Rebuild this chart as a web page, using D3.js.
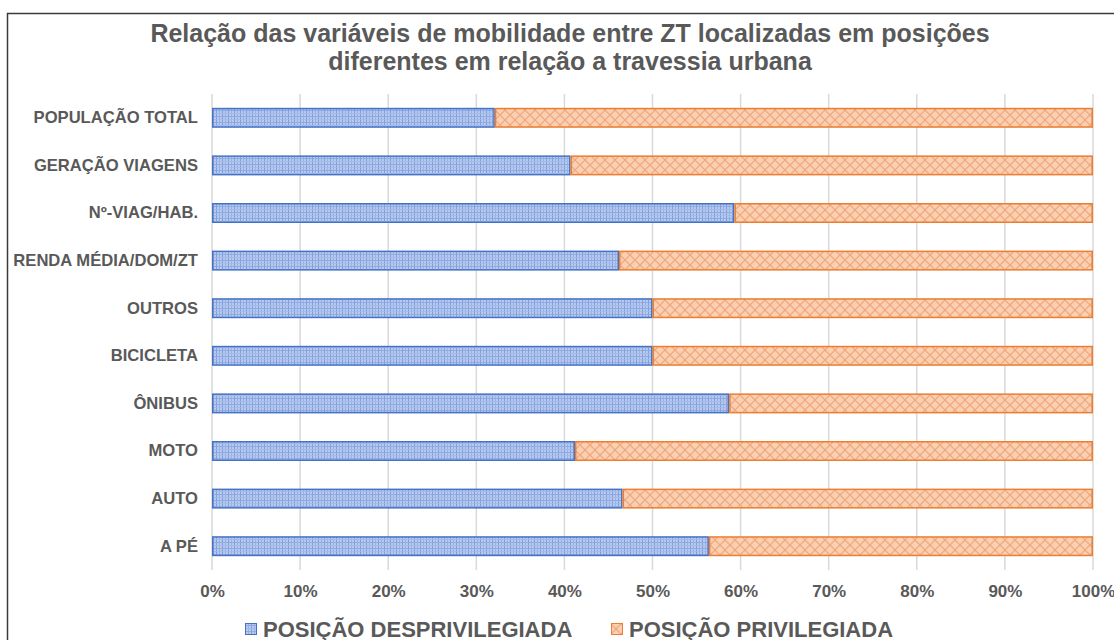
<!DOCTYPE html>
<html>
<head>
<meta charset="utf-8">
<script src="https://cdn.jsdelivr.net/npm/d3@7"></script>
<style>
  html, body { margin: 0; padding: 0; background: #fff; }
  svg { display: block; font-family: "Liberation Sans", Arial, sans-serif; }
</style>
</head>
<body>
<svg id="chart" width="1114" height="640"></svg>
<script>
// Categories, top to bottom
const categories = [
  "POPULAÇÃO TOTAL", "GERAÇÃO VIAGENS", "Nº-VIAG/HAB.", "RENDA MÉDIA/DOM/ZT",
  "OUTROS", "BICICLETA", "ÔNIBUS", "MOTO", "AUTO", "A PÉ"
];
// Share of each variable in underprivileged zones (%); the rest is privileged
const desprivilegiada = [32.1, 40.7, 59.3, 46.2, 50.0, 50.0, 58.7, 41.2, 46.6, 56.4];
const privilegiada = desprivilegiada.map(v => 100 - v);
const seriesNames = ["POSIÇÃO DESPRIVILEGIADA", "POSIÇÃO PRIVILEGIADA"];
const tickValues = [0, 10, 20, 30, 40, 50, 60, 70, 80, 90, 100];
const titleLines = [
  "Relação das variáveis de mobilidade entre ZT localizadas em posições",
  "diferentes em relação a travessia urbana"
];

const svg = d3.select("#chart");
const textColor = "#595959";

// Hatch patterns
const defs = svg.append("defs");
const pb = defs.append("pattern").attr("id", "patBlue")
  .attr("patternUnits", "userSpaceOnUse").attr("width", 6).attr("height", 6);
pb.append("rect").attr("width", 6).attr("height", 6).attr("fill", "#b7c9ee");
pb.append("rect").attr("x", 0).attr("y", 0).attr("width", 1).attr("height", 6).attr("fill", "#7d9ddc");
pb.append("rect").attr("x", 3).attr("y", 0).attr("width", 1).attr("height", 6).attr("fill", "#99b2e4");
pb.append("rect").attr("x", 0).attr("y", 2).attr("width", 6).attr("height", 1).attr("fill", "#8eaae1");
pb.append("rect").attr("x", 0).attr("y", 5).attr("width", 6).attr("height", 1).attr("fill", "#a3bae8");

const po = defs.append("pattern").attr("id", "patOrange")
  .attr("patternUnits", "userSpaceOnUse").attr("width", 10).attr("height", 10);
po.append("rect").attr("width", 10).attr("height", 10).attr("fill", "#f9d0b3");
po.append("path").attr("d", "M0,5 L5,0 L10,5 L5,10 Z")
  .attr("fill", "none").attr("stroke", "#f2a578").attr("stroke-width", 1.1);

// Chart frame
svg.append("rect").attr("x", 7.5).attr("y", 13.5).attr("width", 1120).attr("height", 640)
  .attr("fill", "none").attr("stroke", "#3a3a3a").attr("stroke-width", 1.5);

// Title
svg.append("g").selectAll("text").data(titleLines).join("text")
  .attr("x", 570).attr("y", (d, i) => 42 + i * 28)
  .attr("text-anchor", "middle")
  .attr("font-size", 25).attr("font-weight", "bold").attr("fill", textColor)
  .text(d => d);

// Scales
const x = d3.scaleLinear().domain([0, 100]).range([212, 1093]);
const y = d3.scaleBand().domain(categories).range([94, 570]).paddingInner(0.58).paddingOuter(0.29);

// Gridlines
svg.append("g").selectAll("line").data(tickValues).join("line")
  .attr("x1", d => x(d)).attr("x2", d => x(d))
  .attr("y1", 94).attr("y2", 570)
  .attr("stroke", "#d9d9d9").attr("stroke-width", 1.5);

// Stacked bars
const rows = categories.map((c, i) => ({ cat: c, a: desprivilegiada[i], b: privilegiada[i] }));
const stack = d3.stack().keys(["a", "b"])(rows);
const fills = ["url(#patBlue)", "url(#patOrange)"];
const strokes = ["#4472c4", "#ed7d31"];
stack.forEach((layer, li) => {
  svg.append("g").selectAll("rect").data(layer).join("rect")
    .attr("x", d => x(d[0]) + 0.75)
    .attr("y", d => y(d.data.cat) + 0.75)
    .attr("width", d => x(d[1]) - x(d[0]) - 1.5)
    .attr("height", y.bandwidth() - 1.5)
    .attr("fill", fills[li])
    .attr("stroke", strokes[li]).attr("stroke-width", 1.5);
});

// Category axis labels
const yAxis = svg.append("g").attr("transform", "translate(212,0)")
  .call(d3.axisLeft(y).tickSize(0).tickPadding(14));
yAxis.select(".domain").remove();
yAxis.selectAll("text")
  .attr("font-family", "Liberation Sans, Arial, sans-serif")
  .attr("font-size", 16.6).attr("font-weight", "bold").attr("fill", textColor);

// Percentage axis labels
const xAxis = svg.append("g").attr("transform", "translate(0,570)")
  .call(d3.axisBottom(x).tickValues(tickValues).tickFormat(d => d + "%").tickSize(0).tickPadding(15));
xAxis.select(".domain").remove();
xAxis.selectAll("text")
  .attr("font-family", "Liberation Sans, Arial, sans-serif")
  .attr("font-size", 17).attr("font-weight", "bold").attr("fill", textColor);

// Legend
const legendX = [245, 611];
const legend = svg.append("g").selectAll("g").data(seriesNames).join("g")
  .attr("transform", (d, i) => `translate(${legendX[i]},629)`);
legend.append("rect").attr("x", 0.5).attr("y", -5.5).attr("width", 11).attr("height", 11)
  .attr("fill", (d, i) => fills[i]).attr("stroke", (d, i) => strokes[i]).attr("stroke-width", 1);
legend.append("text").attr("x", 18).attr("y", 8)
  .attr("font-size", 22).attr("font-weight", "bold").attr("fill", textColor)
  .text(d => d);
</script>
</body>
</html>
